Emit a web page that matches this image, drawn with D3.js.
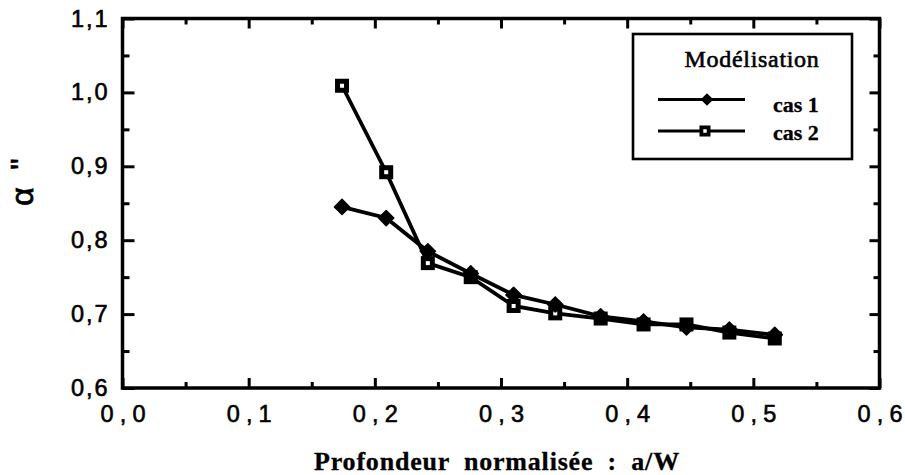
<!DOCTYPE html>
<html><head><meta charset="utf-8">
<script src="https://cdn.jsdelivr.net/npm/d3@7"></script>
<style>body{margin:0;background:#fff}</style>
</head><body>
<svg id="c" width="905" height="475"></svg>
<script>
const aW   = [0.174, 0.209, 0.242, 0.276, 0.310, 0.343, 0.379, 0.413, 0.447, 0.481, 0.517];
const cas1 = [0.845, 0.830, 0.785, 0.755, 0.726, 0.713, 0.697, 0.690, 0.682, 0.679, 0.672];
const cas2 = [1.009, 0.892, 0.769, 0.750, 0.711, 0.701, 0.694, 0.686, 0.686, 0.675, 0.667];
const xMajor = [0, 0.1, 0.2, 0.3, 0.4, 0.5, 0.6];
const xMinor = [0.05, 0.15, 0.25, 0.35, 0.45, 0.55];
const yMajor = [0.6, 0.7, 0.8, 0.9, 1.0, 1.1];
const yMinor = [0.65, 0.75, 0.85, 0.95, 1.05];
const legendTitle = "Modélisation";
const seriesNames = ["cas 1", "cas 2"];
const xTitle = "Profondeur normalisée : a/W";
const yTitle = "α";
const yTitleMark = '"';

const svg = d3.select("#c");
const L = 122.5, R = 879.5, T = 18.5, B = 388;
const x = d3.scaleLinear().domain([0, 0.6]).range([L, R]);
const y = d3.scaleLinear().domain([0.6, 1.1]).range([B, T]);
const fmt = v => d3.format(".1f")(v).replace(".", ",");
const SANS = "Liberation Sans, Arial, Helvetica, sans-serif";
const SERIF = "Liberation Serif, Times New Roman, serif";

function styleAxis(g){
  g.select(".domain").remove();
  g.selectAll(".tick line").attr("stroke","#000").attr("stroke-width",3);
}
// bottom
svg.append("g").attr("transform",`translate(0,${B})`)
  .call(d3.axisBottom(x).tickValues(xMajor).tickSize(-10).tickPadding(17).tickFormat(fmt))
  .call(styleAxis)
  .selectAll("text").attr("font-family",SANS)
  .attr("font-size",23.5).attr("fill","#000")
  .attr("stroke","#000").attr("stroke-width",0.6).attr("dx","0 6.2 6.2");
svg.append("g").attr("transform",`translate(0,${B})`)
  .call(d3.axisBottom(x).tickValues(xMinor).tickSize(-6).tickFormat(""))
  .call(styleAxis);
// top
svg.append("g").attr("transform",`translate(0,${T})`)
  .call(d3.axisTop(x).tickValues(xMajor).tickSize(-10).tickFormat(""))
  .call(styleAxis);
svg.append("g").attr("transform",`translate(0,${T})`)
  .call(d3.axisTop(x).tickValues(xMinor).tickSize(-6).tickFormat(""))
  .call(styleAxis);
// left
const gl = svg.append("g").attr("transform",`translate(${L},0)`)
  .call(d3.axisLeft(y).tickValues(yMajor).tickSize(-12).tickPadding(12).tickFormat(fmt))
  .call(styleAxis);
gl.selectAll("text").attr("font-family",SANS)
  .attr("font-size",23.5).attr("fill","#000")
  .attr("stroke","#000").attr("stroke-width",0.6).attr("dx","0 2 2")
  .attr("text-anchor","start").attr("x",71-L);
svg.append("g").attr("transform",`translate(${L},0)`)
  .call(d3.axisLeft(y).tickValues(yMinor).tickSize(-7).tickFormat(""))
  .call(styleAxis);
// right
svg.append("g").attr("transform",`translate(${R},0)`)
  .call(d3.axisRight(y).tickValues(yMajor).tickSize(-10).tickFormat(""))
  .call(styleAxis);
svg.append("g").attr("transform",`translate(${R},0)`)
  .call(d3.axisRight(y).tickValues(yMinor).tickSize(-6).tickFormat(""))
  .call(styleAxis);
// frame
svg.append("rect").attr("x",L).attr("y",T).attr("width",R-L).attr("height",B-T)
  .attr("fill","none").attr("stroke","#000").attr("stroke-width",3.5);

// data
const line = d3.line().x(d=>x(d[0])).y(d=>y(d[1]));
const d1 = aW.map((v,i)=>[v,cas1[i]]);
const d2 = aW.map((v,i)=>[v,cas2[i]]);
svg.append("path").attr("d",line(d2)).attr("fill","none").attr("stroke","#000").attr("stroke-width",3.8);
svg.append("path").attr("d",line(d1)).attr("fill","none").attr("stroke","#000").attr("stroke-width",3.8);

function squareMarker(g, cx, cy, s, hole){
  g.append("rect").attr("x",cx-s/2).attr("y",cy-s/2).attr("width",s).attr("height",s).attr("fill","#000");
  g.append("rect").attr("x",cx-hole/2).attr("y",cy-hole/2).attr("width",hole).attr("height",hole).attr("fill","#fff");
}
const diamond = d3.symbol().type(d3.symbolSquare).size(115);
const gm = svg.append("g");
d2.forEach(d=>squareMarker(gm, x(d[0]), y(d[1]), 14, 4));
d1.forEach(d=>gm.append("path").attr("d",diamond())
  .attr("transform",`translate(${x(d[0])},${y(d[1])}) rotate(45)`).attr("fill","#000")
  .attr("stroke","#000").attr("stroke-width",1.5).attr("stroke-linejoin","round"));

// legend
const lg = svg.append("g");
lg.append("rect").attr("x",633).attr("y",34).attr("width",219).attr("height",125)
  .attr("fill","#fff").attr("stroke","#000").attr("stroke-width",2.6);
lg.append("text").attr("x",752).attr("y",67).attr("text-anchor","middle")
  .attr("font-family",SERIF).attr("font-size",24)
  .attr("stroke","#000").attr("stroke-width",0.6)
  .attr("letter-spacing",0.7).text(legendTitle);
lg.append("line").attr("x1",658).attr("x2",745).attr("y1",99.5).attr("y2",99.5).attr("stroke","#000").attr("stroke-width",3);
lg.append("path").attr("d",d3.symbol().type(d3.symbolSquare).size(80)())
  .attr("transform","translate(707,99.5) rotate(45)").attr("fill","#000");
lg.append("line").attr("x1",658).attr("x2",745).attr("y1",131).attr("y2",131).attr("stroke","#000").attr("stroke-width",3);
squareMarker(lg, 705, 131, 11, 3.5);
[112, 140].forEach((by,i)=>lg.append("text").attr("x",773).attr("y",by)
  .attr("font-family",SERIF).attr("font-size",22)
  .attr("font-weight","bold").attr("stroke","#000").attr("stroke-width",0.3).text(seriesNames[i]));

// titles
svg.append("text").attr("x",497).attr("y",470).attr("text-anchor","middle")
  .attr("font-family",SERIF).attr("font-size",26)
  .attr("font-weight","bold").attr("stroke","#000").attr("stroke-width",0.3)
  .attr("letter-spacing",0.8).attr("word-spacing",7).text(xTitle);
svg.append("text").attr("transform","translate(33,196.5) rotate(-90)").attr("text-anchor","middle")
  .attr("font-family",SANS).attr("font-size",32).attr("stroke","#000").attr("stroke-width",0.8).text(yTitle);
svg.append("text").attr("transform","translate(33,164) rotate(-90)").attr("text-anchor","middle")
  .attr("font-family",SANS).attr("font-size",32).attr("stroke","#000").attr("stroke-width",0.6).text(yTitleMark);
</script>
</body></html>
